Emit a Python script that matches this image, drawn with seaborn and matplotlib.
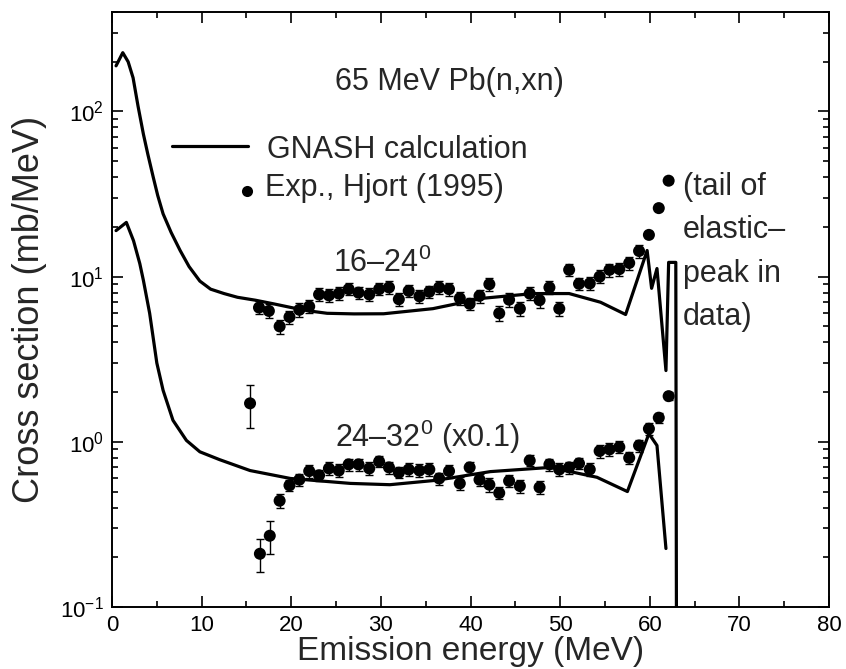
import numpy as np
import pandas as pd
import matplotlib
matplotlib.use("Agg")
import matplotlib.pyplot as plt
import seaborn as sns
from matplotlib.ticker import LogLocator, LogFormatterSciNotation, MultipleLocator, NullFormatter

# GNASH calculation, 16-24 deg
calc_hi_e = [0.45, 1.2, 1.8, 2.35, 2.9, 3.5, 4.0, 4.6, 5.1, 5.7, 6.6, 7.6, 8.6, 9.8, 11.0,
             12.5, 14.0, 16.0, 18.0, 20.0, 22.0, 24.0, 27.0, 30.3, 35.8, 41.4, 47.0, 51.0,
             54.5, 57.3, 59.7, 60.2, 60.8, 61.8, 62.1, 62.9, 63.0]
calc_hi = [189, 227, 200, 160, 108, 73, 55, 40, 31, 24, 18.5, 14.4, 11.5, 9.4, 8.4,
           7.9, 7.5, 7.2, 6.85, 6.5, 6.2, 6.0, 5.95, 5.96, 6.4, 7.4, 7.9, 7.9,
           7.0, 5.9, 14.4, 8.5, 11.2, 2.7, 12.2, 12.2, 0.01]

# GNASH calculation, 24-32 deg (x0.1)
calc_lo_e = [0.45, 1.6, 2.4, 3.1, 3.5, 4.2, 5.0, 5.7, 6.8, 8.3, 9.8, 12.0, 15.4, 19.9,
             26.6, 31.0, 36.2, 42.2, 48.9, 54.1, 57.5, 59.9, 60.8, 61.8]
calc_lo = [19, 21.3, 16.5, 12.0, 9.5, 6.0, 3.0, 2.05, 1.35, 1.02, 0.87, 0.78, 0.67, 0.60,
           0.56, 0.55, 0.585, 0.66, 0.70, 0.61, 0.50, 1.12, 0.95, 0.226]

# Hjort (1995) data, 16-24 deg
exp_hi_e = [16.4, 17.5, 18.7, 19.8, 20.9, 22.0, 23.1, 24.2, 25.3, 26.4, 27.5, 28.7, 29.8, 30.9,
            32.0, 33.1, 34.3, 35.4, 36.5, 37.6, 38.8, 39.9, 41.0, 42.1, 43.2, 44.3, 45.5, 46.6,
            47.7, 48.8, 49.9, 51.0, 52.1, 53.3, 54.4, 55.5, 56.6, 57.7, 58.8, 59.9, 61.0, 62.1]
exp_hi = [6.5, 6.2, 5.0, 5.7, 6.3, 6.6, 7.8, 7.7, 7.9, 8.4, 8.0, 7.8, 8.4, 8.6,
          7.3, 8.2, 7.6, 8.1, 8.6, 8.4, 7.4, 6.85, 7.65, 9.0, 6.0, 7.25, 6.4, 7.9,
          7.2, 8.6, 6.4, 11.0, 9.05, 9.1, 10.0, 11.0, 11.1, 12.1, 14.3, 17.9, 26.0, 38.1]
exp_hi_err = [0.6, 0.6, 0.5, 0.5, 0.6, 0.6, 0.7, 0.7, 0.7, 0.7, 0.7, 0.7, 0.7, 0.8,
              0.7, 0.7, 0.7, 0.7, 0.8, 0.8, 0.7, 0.6, 0.7, 0.8, 0.6, 0.7, 0.6, 0.7,
              0.7, 0.8, 0.6, 0.9, 0.8, 0.8, 0.9, 1.0, 1.0, 1.1, 1.3, 0.6, 0.8, 1.0]

# Hjort (1995) data, 24-32 deg (x0.1)
exp_lo_e = [15.4, 16.5, 17.6, 18.7, 19.8, 20.9, 22.0, 23.1, 24.2, 25.3, 26.4, 27.5, 28.7, 29.8,
            30.9, 32.0, 33.1, 34.3, 35.4, 36.5, 37.6, 38.8, 39.9, 41.0, 42.1, 43.2, 44.3, 45.5,
            46.6, 47.7, 48.8, 49.9, 51.0, 52.1, 53.3, 54.4, 55.5, 56.6, 57.7, 58.8, 59.9, 61.0, 62.1]
exp_lo = [1.71, 0.21, 0.27, 0.44, 0.545, 0.59, 0.665, 0.627, 0.69, 0.67, 0.73, 0.73, 0.69, 0.76,
          0.70, 0.65, 0.68, 0.67, 0.68, 0.60, 0.665, 0.56, 0.70, 0.59, 0.55, 0.49, 0.58, 0.54,
          0.77, 0.53, 0.73, 0.68, 0.70, 0.74, 0.68, 0.88, 0.90, 0.93, 0.80, 0.95, 1.2, 1.40, 1.89]
exp_lo_err = [0.50, 0.047, 0.06, 0.045, 0.04, 0.05, 0.06, 0.05, 0.06, 0.06, 0.06, 0.06, 0.06, 0.06,
              0.06, 0.05, 0.06, 0.06, 0.06, 0.05, 0.06, 0.05, 0.06, 0.05, 0.05, 0.04, 0.05, 0.05,
              0.06, 0.05, 0.06, 0.06, 0.06, 0.06, 0.06, 0.08, 0.08, 0.08, 0.07, 0.08, 0.10, 0.10, 0.10]

sns.set_style("ticks")
plt.rcParams["font.family"] = ["Liberation Sans", "DejaVu Sans"]
plt.rcParams["mathtext.fontset"] = "custom"
plt.rcParams["mathtext.rm"] = "Liberation Sans"
plt.rcParams["mathtext.it"] = "Liberation Sans:italic"
plt.rcParams["mathtext.bf"] = "Liberation Sans:bold"

fig = plt.figure(figsize=(8.46, 6.69), dpi=100)
ax = fig.add_axes([0.1324, 0.0927, 0.8476, 0.8893])

line_kw = dict(color="black", linewidth=2.3, estimator=None, sort=False, legend=False, ax=ax)
sns.lineplot(x=calc_hi_e, y=calc_hi, **line_kw)
sns.lineplot(x=calc_lo_e, y=calc_lo, **line_kw)

for xe, ye, ee in ((exp_hi_e, exp_hi, exp_hi_err), (exp_lo_e, exp_lo, exp_lo_err)):
    ax.errorbar(xe, ye, yerr=ee, fmt="none", ecolor="black", elinewidth=1.0,
                capsize=3.0, capthick=1.0)
    sns.scatterplot(x=xe, y=ye, color="black", s=75, edgecolor="none", legend=False, ax=ax)

ax.set_yscale("log")
ax.set_xlim(0, 80)
ax.set_ylim(0.1, 400)

ax.xaxis.set_major_locator(MultipleLocator(10))
ax.xaxis.set_minor_locator(MultipleLocator(5))
ax.yaxis.set_major_locator(LogLocator(base=10, numticks=10))
ax.yaxis.set_minor_locator(LogLocator(base=10, subs=np.arange(2, 10), numticks=20))
ax.yaxis.set_major_formatter(LogFormatterSciNotation())
ax.yaxis.set_minor_formatter(NullFormatter())
ax.tick_params(which="both", direction="in", top=True, right=True, width=1.2, labelsize=16,
               colors="black")
ax.tick_params(which="major", length=8, pad=6)
ax.tick_params(which="minor", length=4.5)
for sp in ax.spines.values():
    sp.set_linewidth(1.4)
    sp.set_color("black")

ax.set_xlabel("Emission energy (MeV)", fontsize=24, labelpad=0)
ax.set_ylabel("Cross section (mb/MeV)", fontsize=26, labelpad=9)

# title and curve labels
ax.text(0.311, 0.869, "65 MeV Pb(n,xn)", transform=ax.transAxes, fontsize=22, va="baseline")
ax.text(24.7, 10.6, "16\u201324$^{0}$", fontsize=22, va="baseline")
ax.text(24.9, 0.93, "24\u201332$^{0}$ (x0.1)", fontsize=22, va="baseline")

# legend
ax.plot([0.0837, 0.190], [0.774, 0.774], transform=ax.transAxes, color="black", lw=2.3)
ax.text(0.216, 0.755, "GNASH calculation", transform=ax.transAxes, fontsize=22, va="baseline")
ax.plot([0.188], [0.700], transform=ax.transAxes, marker="o", ms=8, color="black", mec="none")
ax.text(0.213, 0.691, "Exp., Hjort (1995)", transform=ax.transAxes, fontsize=22, va="baseline")

# note on the highest-energy points
for txt, yb in zip(["(tail of", "elastic\u2013", "peak in", "data)"], [0.692, 0.620, 0.546, 0.474]):
    ax.text(0.796, yb, txt, transform=ax.transAxes, fontsize=22, va="baseline")

fig.savefig("out.png", dpi=100)
